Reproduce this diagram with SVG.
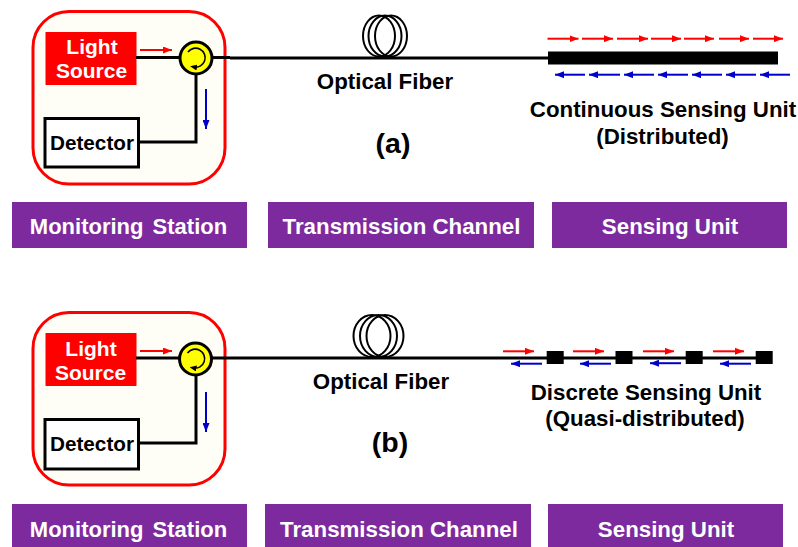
<svg xmlns="http://www.w3.org/2000/svg" width="798" height="547" viewBox="0 0 798 547">
<style>
text{font-family:"Liberation Sans",Arial,sans-serif;font-weight:bold;text-anchor:middle}
.t{font-size:22.3px;fill:#000}
.w{font-size:21px;fill:#fff}
.d{font-size:20.700px;fill:#000}
.s{font-size:22.300px;fill:#fff}
.m{font-size:22px;fill:#fff;word-spacing:3px}
.box{fill:#fffef6;stroke:#f00;stroke-width:3}
.ls{fill:#f00}
.det{fill:#fff;stroke:#000;stroke-width:3}
.band{fill:#7d2a9e}
.k{fill:none;stroke:#000;stroke-width:3}
.coil{fill:none;stroke:#000;stroke-width:2}
.circ{fill:#ffff00;stroke:#000;stroke-width:3}
.r{stroke:#f00;stroke-width:2;marker-end:url(#ar)}
.b{stroke:#00c;stroke-width:2;marker-end:url(#ab)}
.sens{fill:#000}
</style>
<defs>
<marker id="ar" markerUnits="userSpaceOnUse" markerWidth="9" markerHeight="7" refX="9" refY="3.5" orient="auto"><path d="M0 0L9 3.5L0 7Z" fill="#f00"/></marker>
<marker id="ab" markerUnits="userSpaceOnUse" markerWidth="9" markerHeight="7" refX="9" refY="3.5" orient="auto"><path d="M0 0L9 3.5L0 7Z" fill="#00c"/></marker>
<marker id="ak" markerUnits="userSpaceOnUse" markerWidth="7" markerHeight="6" refX="3" refY="3" orient="auto"><path d="M0 0L7 3L0 6Z" fill="#000"/></marker>
</defs>
<g id="station-a">
<rect class="box" x="33" y="11.500" width="192" height="172.500" rx="36"/>
<rect class="ls" x="45.500" y="32" width="91" height="53"/>
<text class="w" x="92" y="54">Light</text>
<text class="w" x="91.500" y="78">Source</text>
<rect class="det" x="45" y="118.500" width="93.500" height="48.500"/>
<text class="d" x="92" y="150">Detector</text>
</g>
<g id="station-b">
<rect class="box" x="33" y="312.500" width="192" height="172.500" rx="36"/>
<rect class="ls" x="45.500" y="333" width="91" height="53"/>
<text class="w" x="91" y="356">Light</text>
<text class="w" x="90.500" y="380">Source</text>
<rect class="det" x="45" y="419.500" width="93.500" height="49.500"/>
<text class="d" x="92" y="451">Detector</text>
</g>
<g id="connectors">
<path class="k" d="M136 57.500H180M212 57.500H230"/><path class="k" d="M230 58H548M138 142H196V74"/>
<path class="k" d="M136 358H180M212 358H764M138 443H196V375"/>
<path class="r" d="M140 50H172"/><path class="r" d="M140 351H172"/>
<path class="b" d="M206 89V129"/><path class="b" d="M206 392V432"/>
<path class="r" d="M547.500 38.700H578.500"/><path class="r" d="M582 38.700H613"/><path class="r" d="M617 38.700H648"/><path class="r" d="M651 38.700H681"/><path class="r" d="M684 38.700H714"/><path class="r" d="M719 38.700H749"/><path class="r" d="M753 38.700H783"/>
<path class="b" d="M585 74.700H555"/><path class="b" d="M620 74.700H589"/><path class="b" d="M654 74.700H624"/><path class="b" d="M688 74.700H658"/><path class="b" d="M722 74.700H692"/><path class="b" d="M756 74.700H726"/><path class="b" d="M790 74.700H760"/>
<path class="r" d="M503 351.300H534"/><path class="r" d="M573 351.300H604"/><path class="r" d="M643 351.300H674"/><path class="r" d="M713 351.300H744"/>
<path class="b" d="M542 363.700H511"/><path class="b" d="M611 363.700H580"/><path class="b" d="M681 363.200H650"/><path class="b" d="M751 363.700H720"/>
</g>
<g id="circulator-a">
<circle class="circ" cx="196" cy="58" r="16"/>
<path class="k" style="stroke-width:1.600;marker-end:url(#ak)" d="M188 52A9.500 9.500 0 1 1 194 67"/>
</g>
<g id="circulator-b">
<circle class="circ" cx="195.500" cy="359" r="16"/>
<path class="k" style="stroke-width:1.600;marker-end:url(#ak)" d="M187.500 353A9.500 9.500 0 1 1 193.500 368"/>
</g>
<g id="coil-a">
<ellipse class="coil" cx="379" cy="36" rx="16" ry="20.500"/>
<ellipse class="coil" cx="385" cy="36" rx="16.500" ry="20.500"/>
<ellipse class="coil" cx="391" cy="36" rx="16" ry="20.500"/>
<text class="t" x="385" y="89">Optical Fiber</text>
</g>
<g id="coil-b">
<ellipse class="coil" cx="372" cy="336" rx="18.500" ry="21"/>
<ellipse class="coil" cx="378.500" cy="336" rx="18.500" ry="21"/>
<ellipse class="coil" cx="385" cy="336" rx="18.500" ry="21"/>
<text class="t" x="381" y="389">Optical Fiber</text>
</g>
<g id="sensor-a">
<rect class="sens" x="548" y="51.500" width="230" height="13"/>
<text class="t" x="663" y="117">Continuous Sensing Unit</text>
<text class="t" x="662.500" y="144">(Distributed)</text>
</g>
<g id="sensor-b">
<rect class="sens" x="546.700" y="351" width="17" height="13"/>
<rect class="sens" x="615.500" y="351" width="17" height="13"/>
<rect class="sens" x="685.700" y="351" width="17" height="13"/>
<rect class="sens" x="755.700" y="351" width="17" height="13"/>
<text class="t" x="646" y="400">Discrete Sensing Unit</text>
<text class="t" x="645" y="426">(Quasi-distributed)</text>
</g>
<g id="label-a"><text x="393" y="153" style="font-size:28.500px">(a)</text></g>
<g id="label-b"><text x="390" y="452" style="font-size:28.500px">(b)</text></g>
<g id="band-a1"><rect class="band" x="12" y="202" width="235" height="46"/><text class="m" x="128.500" y="233.500">Monitoring Station</text></g>
<g id="band-a2"><rect class="band" x="268" y="202" width="266" height="46"/><text class="s" x="401.500" y="233.500">Transmission Channel</text></g>
<g id="band-a3"><rect class="band" x="552" y="202" width="235" height="46"/><text class="s" x="670" y="233.500">Sensing Unit</text></g>
<g id="band-b1"><rect class="band" x="12" y="504" width="235" height="43"/><text class="m" x="128.500" y="537">Monitoring Station</text></g>
<g id="band-b2"><rect class="band" x="265" y="504" width="266" height="43"/><text class="s" x="399" y="537">Transmission Channel</text></g>
<g id="band-b3"><rect class="band" x="548" y="504" width="235" height="43"/><text class="s" x="666" y="537">Sensing Unit</text></g>
</svg>
